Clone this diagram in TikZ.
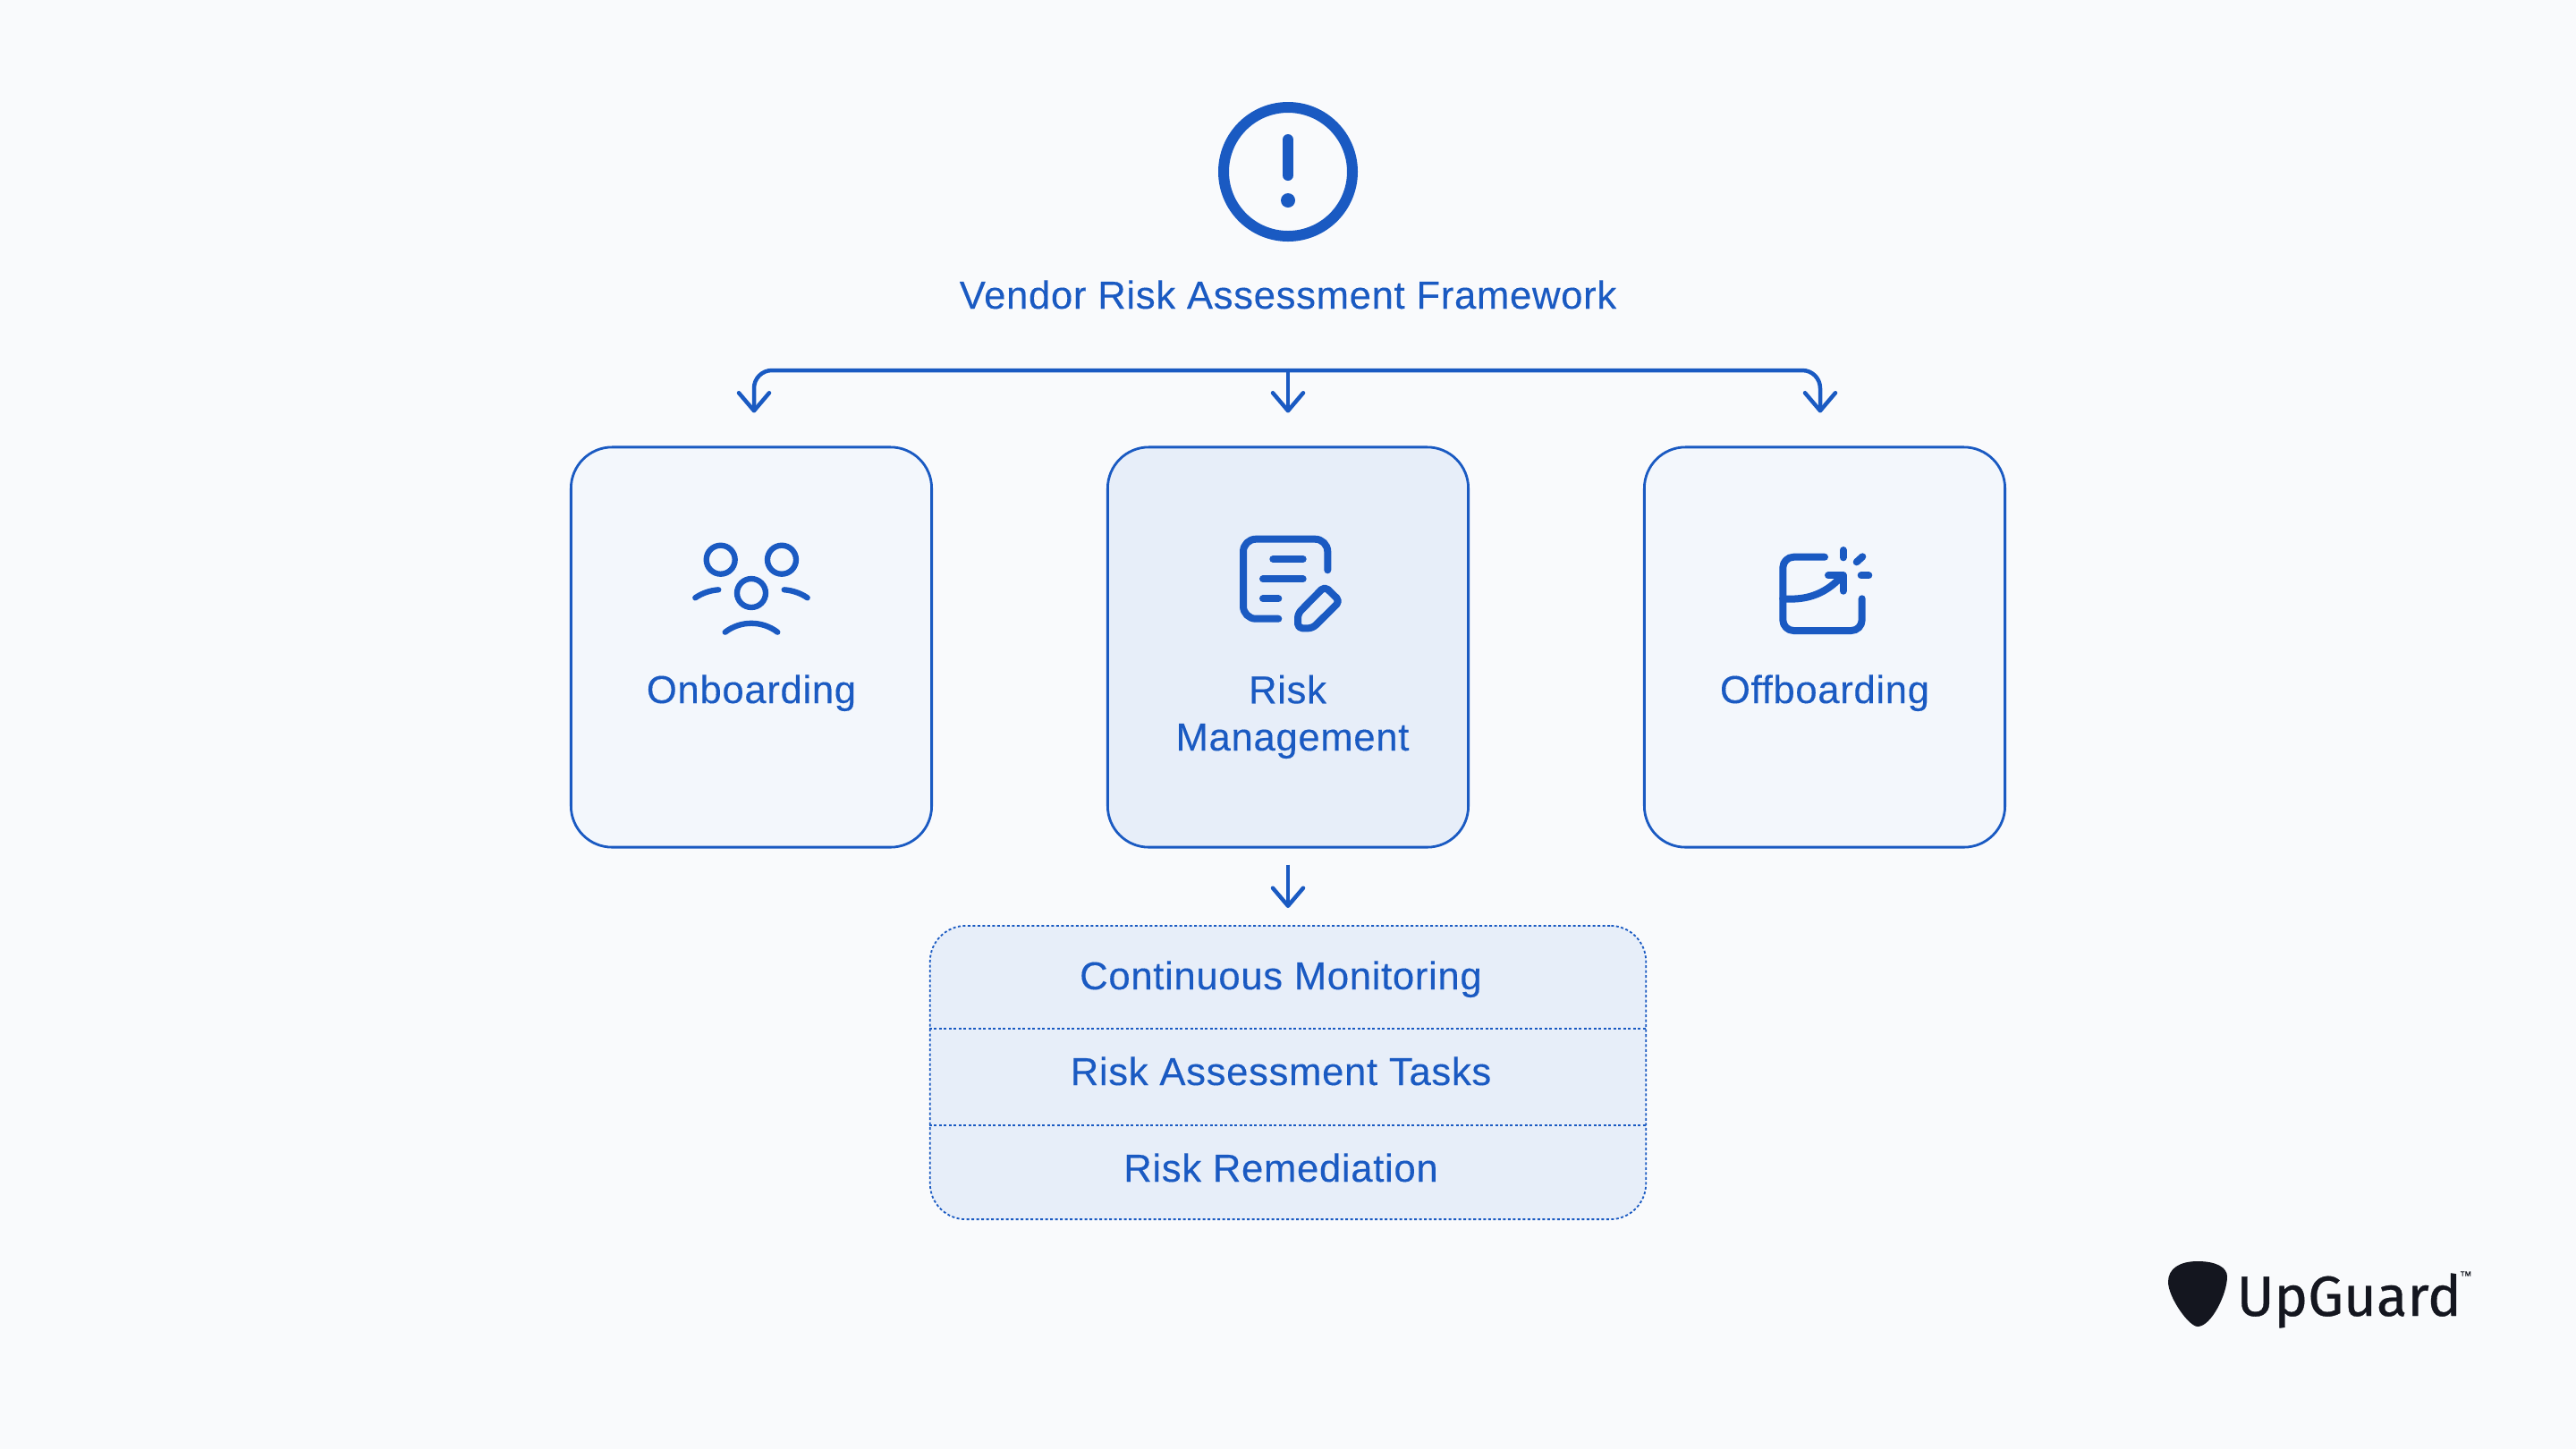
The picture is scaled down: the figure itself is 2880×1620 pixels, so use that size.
\documentclass[tikz,border=0pt]{standalone}
\usepackage{fontspec}
\setmainfont[LetterSpace=1.6, FakeBold=0.2]{Liberation Sans}
\newfontfamily\logofont[FakeBold=0.5]{Fira Sans}
\usetikzlibrary{positioning, arrows.meta}
\definecolor{primary}{HTML}{1A5AC2}
\definecolor{pagebg}{HTML}{F9FAFC}
\definecolor{boxlight}{HTML}{F3F7FC}
\definecolor{boxmid}{HTML}{E7EEF9}
\definecolor{logoink}{HTML}{14161F}
\tikzset{
    label/.style={text=primary, inner sep=0pt, anchor=base, align=center, font=\fontsize{12.4}{15}\selectfont},
    card/.style={draw=primary, line width=0.028cm, rounded corners=0.46cm, minimum width=4.03cm, minimum height=4.47cm, inner sep=0pt},
    link/.style={draw=primary, line width=0.045cm, -{Straight Barb[length=0.2cm, width=0.34cm, round]}},
    glyph/.style={draw=primary, line cap=round, line join=round},
    dotline/.style={draw=primary, line width=0.018cm, dash pattern=on 0.03cm off 0.025cm},
}

\begin{document}
\begin{tikzpicture}[x=0.01cm, y=-0.01cm]
        \fill[pagebg] (0,0) rectangle (2880,1620);
        \useasboundingbox (0,0) rectangle (2880,1620);

        % Warning sign and title
        \draw[glyph, line width=0.12cm] (1440,192) circle (72);
        \draw[glyph, line width=0.12cm] (1440,156) -- (1440,196);
        \fill[primary] (1440,224) circle (8);
        \node[label] (framework) at (1440,345) {Vendor Risk Assessment Framework};
        \coordinate (bus) at (1440,414);

        % Cards
        \node[card, fill=boxlight] (onboarding) at (840,723.5) {};
        \node[card, fill=boxmid] (riskmgmt) at (1440,723.5) {};
        \node[card, fill=boxlight] (offboarding) at (2040,723.5) {};
        \node[label] (onboardinglabel) at (840,786) {Onboarding};
        \node[label] (risklabel) at (1445,839) {Risk\hspace*{0.11cm}\\Management};
        \node[label] (offboardinglabel) at (2040,786) {Offboarding};

        % Connectors
        \draw[link, rounded corners=0.2cm, shorten >=0.37cm] (bus) -| ([xshift=0.03cm]onboarding.north);
        \draw[link, rounded corners=0.2cm, shorten >=0.37cm] (bus) -| ([xshift=-0.05cm]offboarding.north);
        \draw[link, shorten >=0.37cm] (bus) -- (riskmgmt.north);

        % List below the middle card
        \node[dotline, fill=boxmid, rounded corners=0.4cm, minimum width=8cm, minimum height=3.28cm, inner sep=0pt] (tasklist) at (1440,1199) {};
        \draw[dotline] (tasklist.west |- 0,1150) -- (tasklist.east |- 0,1150);
        \draw[dotline] (tasklist.west |- 0,1258) -- (tasklist.east |- 0,1258);
        \node[label] (monitoring) at (1432,1106) {Continuous Monitoring};
        \node[label] (tasks) at (1432,1213) {Risk Assessment Tasks};
        \node[label] (remediation) at (1432,1321) {Risk Remediation};
        \draw[link, shorten <=0.18cm, shorten >=0.19cm] (riskmgmt.south) -- (tasklist.north);

        % People icon
        \draw[glyph, line width=0.063cm] (805.7,625.7) circle (16);
        \draw[glyph, line width=0.063cm] (874,625.7) circle (16);
        \draw[glyph, line width=0.063cm] (840,663) circle (16);
        \draw[glyph, line width=0.063cm] (777.3,668.3) .. controls (785,663) and (794,660) .. (803.3,659.3);
        \draw[glyph, line width=0.063cm] (902.7,668.3) .. controls (895,663) and (886,660) .. (876.7,659.3);
        \draw[glyph, line width=0.063cm] (810.7,706.7) .. controls (828,693.5) and (852,693.5) .. (869.3,706.7);

        % Document icon
        \draw[glyph, line width=0.08cm, rounded corners=0.14cm] (1484.3,637.3) -- (1484.3,602.7) -- (1390,602.7) -- (1390,691.7) -- (1429.3,691.7);
        \draw[glyph, line width=0.08cm] (1423.3,625) -- (1456.7,625);
        \draw[glyph, line width=0.08cm] (1412,647.3) -- (1456.7,647.3);
        \draw[glyph, line width=0.08cm] (1412,669.3) -- (1429.3,669.3);
        \draw[glyph, line width=0.08cm, rounded corners=0.05cm] (1451,702.3) -- (1451,686) -- (1481,655.5) -- (1498,672) -- (1467.5,702.3) -- cycle;

        % Exit icon
        \draw[glyph, line width=0.08cm, rounded corners=0.12cm] (2040,622.7) -- (1993.3,622.7) -- (1993.3,705) -- (2081.7,705) -- (2081.7,669.3);
        \draw[glyph, line width=0.08cm] (1993.3,669.3) .. controls (2023.3,671.7) and (2043.3,661.7) .. (2060,643.3);
        \draw[glyph, line width=0.08cm] (2044,643.3) -- (2060.7,643.3) -- (2060.7,660.7);
        \draw[glyph, line width=0.08cm] (2060.7,615) -- (2060.7,623.3);
        \draw[glyph, line width=0.08cm] (2075.7,628.3) -- (2082.3,622.3);
        \draw[glyph, line width=0.08cm] (2080.7,643.3) -- (2089.3,643.3);

        % Logo
        \fill[logoink] (2424,1433) .. controls (2424,1418) and (2437,1410) .. (2457,1410) .. controls (2478,1410) and (2490,1417) .. (2490,1427) .. controls (2490,1447) and (2472,1483) .. (2457,1483) .. controls (2447,1483) and (2424,1450) .. (2424,1433);
        \node[anchor=base west, inner sep=0pt, text=logoink, font=\logofont\fontsize{18}{18}\selectfont] (logo) at (2500,1471) {UpGuard};
        \node[anchor=base west, inner sep=0pt, text=logoink, font=\fontsize{4}{4}\selectfont] (trademark) at (2749,1431) {™};
\end{tikzpicture}
\end{document}
